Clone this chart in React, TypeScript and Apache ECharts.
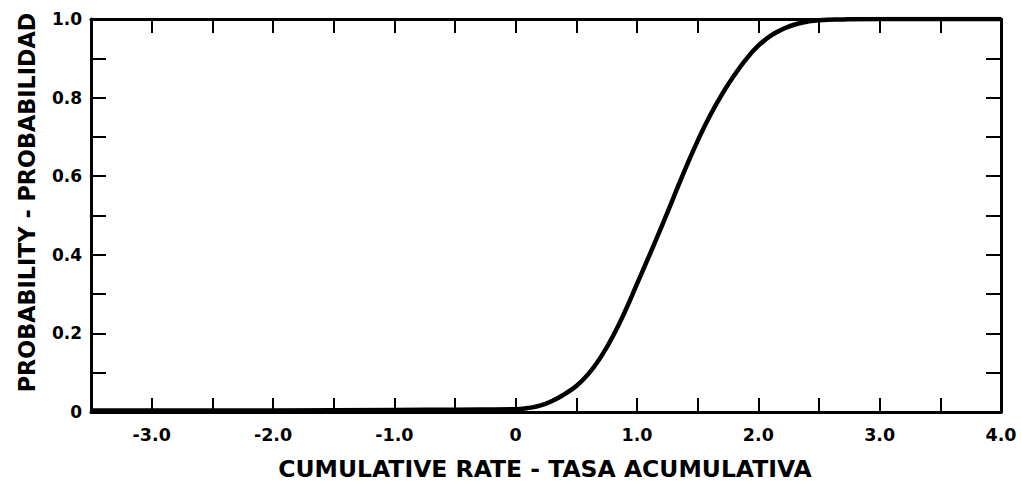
import React, { useEffect, useRef } from "react";
import * as echarts from "echarts";

const rateValues = [-3.5, -3.0, -2.0, -1.0, -0.5, 0, 0.1, 0.2, 0.3, 0.4, 0.5, 0.6, 0.7, 0.8, 0.9, 1.0, 1.1, 1.2, 1.3, 1.4, 1.5, 1.6, 1.7, 1.8, 1.9, 2.0, 2.1, 2.2, 2.3, 2.4, 2.5, 2.7, 3.0, 3.5, 4.0];
const probabilityValues = [0.004, 0.004, 0.004, 0.005, 0.006, 0.007, 0.010, 0.016, 0.028, 0.045, 0.066, 0.097, 0.139, 0.192, 0.255, 0.326, 0.397, 0.470, 0.545, 0.620, 0.690, 0.753, 0.808, 0.856, 0.898, 0.932, 0.957, 0.974, 0.986, 0.993, 0.997, 0.999, 1.0, 1.0, 1.0];

const xTitle = "CUMULATIVE RATE - TASA ACUMULATIVA";
const yTitle = "PROBABILITY - PROBABILIDAD";

const FONT = "DejaVu Sans";

export default function App() {
  const ref = useRef<HTMLDivElement>(null);
  useEffect(() => {
    document.body.style.margin = "0";
    const chart = echarts.init(ref.current!, null, { renderer: "svg" });
    const xFmt = (v: number) => {
      if (Math.abs(v - Math.round(v)) > 1e-9) return "";
      return Math.round(v) === 0 ? "0" : v.toFixed(1);
    };
    const yFmt = (v: number) => {
      const k = Math.round(v * 10);
      if (k % 2 !== 0) return "";
      return k === 0 ? "0" : (k / 10).toFixed(1);
    };
    const lineStyle = { color: "#000", width: 3 };
    const tickStyle = { color: "#000", width: 2 };
    chart.setOption({
      animation: false,
      backgroundColor: "#fff",
      grid: { left: 91, right: 20, top: 19, bottom: 73 },
      xAxis: [
        {
          type: "value",
          position: "bottom",
          min: -3.5,
          max: 4.0,
          interval: 0.5,
          axisLine: { show: true, onZero: false, lineStyle },
          axisTick: { show: true, inside: true, length: 14, lineStyle: tickStyle },
          axisLabel: {
            formatter: xFmt,
            margin: 14,
            color: "#000",
            fontFamily: FONT,
            fontWeight: "bold",
            fontSize: 17.5,
            showMinLabel: true,
            showMaxLabel: true,
            hideOverlap: false,
          },
          splitLine: { show: false },
        },
        {
          type: "value",
          position: "top",
          min: -3.5,
          max: 4.0,
          interval: 0.5,
          axisLine: { show: true, onZero: false, lineStyle },
          axisTick: { show: true, inside: true, length: 14, lineStyle: tickStyle },
          axisLabel: { show: false },
          splitLine: { show: false },
        },
      ],
      yAxis: [
        {
          type: "value",
          position: "left",
          min: 0,
          max: 1,
          interval: 0.1,
          axisLine: { show: true, onZero: false, lineStyle },
          axisTick: { show: true, inside: true, length: 15, lineStyle: tickStyle },
          axisLabel: {
            formatter: yFmt,
            margin: 9,
            color: "#000",
            fontFamily: FONT,
            fontWeight: "bold",
            fontSize: 17,
          },
          splitLine: { show: false },
        },
        {
          type: "value",
          position: "right",
          min: 0,
          max: 1,
          interval: 0.1,
          axisLine: { show: true, onZero: false, lineStyle },
          axisTick: { show: true, inside: true, length: 15, lineStyle: tickStyle },
          axisLabel: { show: false },
          splitLine: { show: false },
        },
      ],
      graphic: [
        {
          type: "text",
          x: 545,
          y: 468.5,
          style: {
            text: xTitle,
            fill: "#000",
            font: `bold 23.5px "${FONT}"`,
            textAlign: "center",
            textVerticalAlign: "middle",
          },
        },
        {
          type: "text",
          x: 27,
          y: 202.5,
          rotation: Math.PI / 2,
          style: {
            text: yTitle,
            fill: "#000",
            font: `bold 22.3px "${FONT}"`,
            textAlign: "center",
            textVerticalAlign: "middle",
          },
        },
      ],
      series: [
        {
          type: "line",
          xAxisIndex: 0,
          yAxisIndex: 0,
          data: rateValues.map((x, i) => [x, probabilityValues[i]]),
          smooth: 0.5,
          showSymbol: false,
          lineStyle: { color: "#000", width: 4.5 },
        },
      ],
    });
    return () => chart.dispose();
  }, []);
  return <div ref={ref} style={{ width: 1021, height: 485 }} />;
}
